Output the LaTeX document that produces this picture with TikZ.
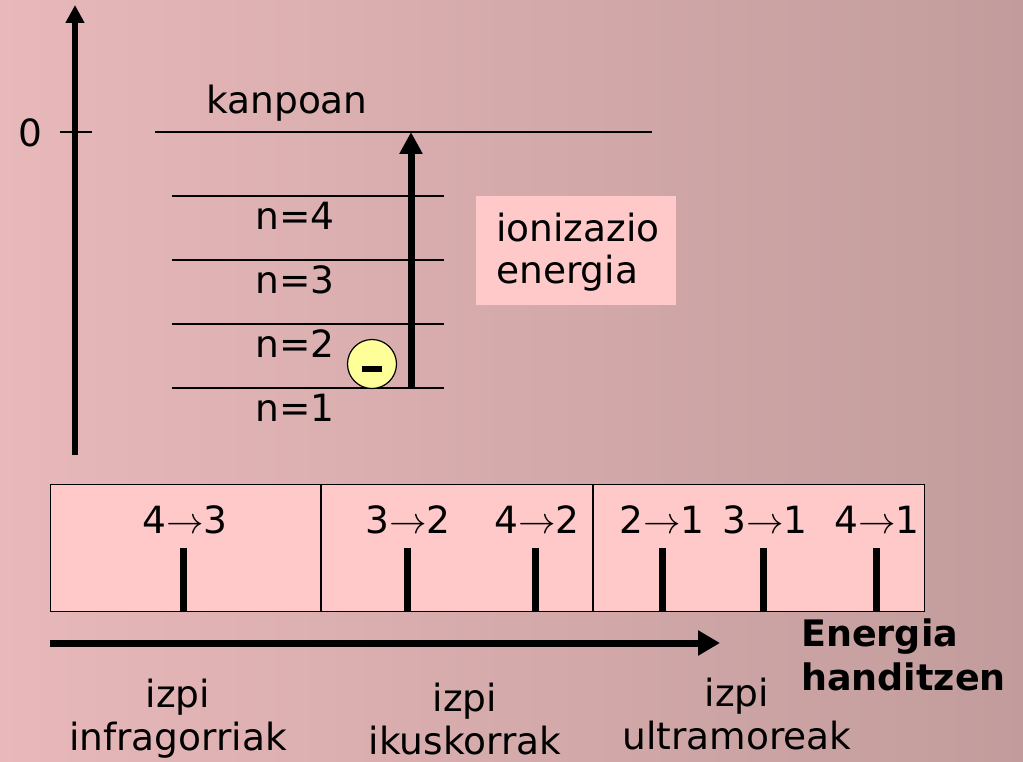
\RequirePackage{fix-cm}
\documentclass[tikz,border=0pt]{standalone}
\usepackage{fontspec}
\setmainfont{DejaVu Sans}
\usetikzlibrary{arrows.meta}
\definecolor{bgL}{HTML}{E8B8BA}
\definecolor{bgR}{HTML}{C29C9C}
\definecolor{boxpink}{HTML}{FFC9C9}
\definecolor{elyellow}{HTML}{FFFF99}
\tikzset{
  txt/.style={font=\fontsize{37.5}{42}\selectfont, inner sep=0pt},
  btxt/.style={font=\fontsize{36.5}{44}\selectfont\bfseries, inner sep=0pt},
  level/.style={line width=1.6pt},
  specline/.style={line width=7pt},
}
\DeclareMathSizes{37.5}{37.5}{26}{20}
\newcommand{\tr}[2]{#1$\rightarrow$#2}
\begin{document}
\begin{tikzpicture}[x=1pt,y=-1pt]
\shade[left color=bgL, right color=bgR] (0,0) rectangle (1023,762);
\useasboundingbox (0,0) rectangle (1023,762);
% vertical axis
\coordinate (axb) at (75,455);
\coordinate (axt) at (75,5);
\draw[line width=6pt, -{Triangle[length=18pt,width=18pt]}] (axb) -- (axt);
\coordinate (tkL) at (60,132);
\coordinate (tkR) at (92,132);
\draw[level] (tkL) -- (tkR);
\node[txt] (zero) at (30,133) {0};
% levels
\coordinate (k0) at (155,132); \coordinate (k1) at (652,132);
\draw[level] (k0) -- (k1);
\node[txt] (kanpoan) at (287,103) {kanpoan};
\foreach \y/\n in {196/4,260/3,324/2,388/1}{
  \coordinate (l\n a) at (172,\y); \coordinate (l\n b) at (444,\y);
  \draw[level] (l\n a) -- (l\n b);
  \node[txt] (lab\n) at (295,\y+20) {n=\n};
}
% ionization arrow
\coordinate (ionb) at (411,388);
\coordinate (iont) at (411,132);
\draw[line width=7pt, -{Triangle[length=22pt,width=22pt]}] (ionb) -- (iont);
% electron
\node[circle, draw, line width=1.2pt, fill=elyellow, minimum size=49pt, inner sep=0pt] (el) at (372,364) {};
\fill (362,366) rectangle (382,372);
% ionization box
\node[fill=boxpink, minimum width=200pt, minimum height=109pt, inner sep=0pt, anchor=north west] (ionbox) at (476,196) {};
\node[txt, align=left, anchor=north west] (iontxt) at (496,213) {ionizazio\\energia};
% spectrum box
\node[fill=boxpink, draw, line width=1.3pt, minimum width=874pt, minimum height=127pt, inner sep=0pt, anchor=north west] (spec) at (50,484) {};
\draw[line width=1.3pt] (321,484) -- (321,611);
\draw[line width=1.3pt] (593,484) -- (593,611);
\foreach \x/\a/\b/\tx in {183/4/3/185, 407/3/2/408, 535/4/2/537, 662/2/1/662, 763/3/1/765, 876/4/1/877}{
  \draw[specline] (\x,548) -- (\x,611);
  \node[txt] at (\tx,520) {\tr{\a}{\b}};
}
% energy arrow
\coordinate (ea) at (50,643);
\coordinate (eb) at (720,643);
\draw[line width=7pt, -{Triangle[length=22pt,width=24pt]}] (ea) -- (eb);
\node[btxt, align=left, anchor=west] (en) at (801,655) {Energia\\handitzen};
% ray labels
\node[txt, align=center, font=\fontsize{37.5}{43}\selectfont] (ir) at (178,719) {izpi\\infragorriak};
\node[txt, align=center, font=\fontsize{37.5}{43}\selectfont] (vis) at (465,719) {izpi\\ikuskorrak};
\node[txt, align=center, font=\fontsize{37.5}{43}\selectfont] (uv) at (737,714) {izpi\\ultramoreak};
\end{tikzpicture}
\end{document}
